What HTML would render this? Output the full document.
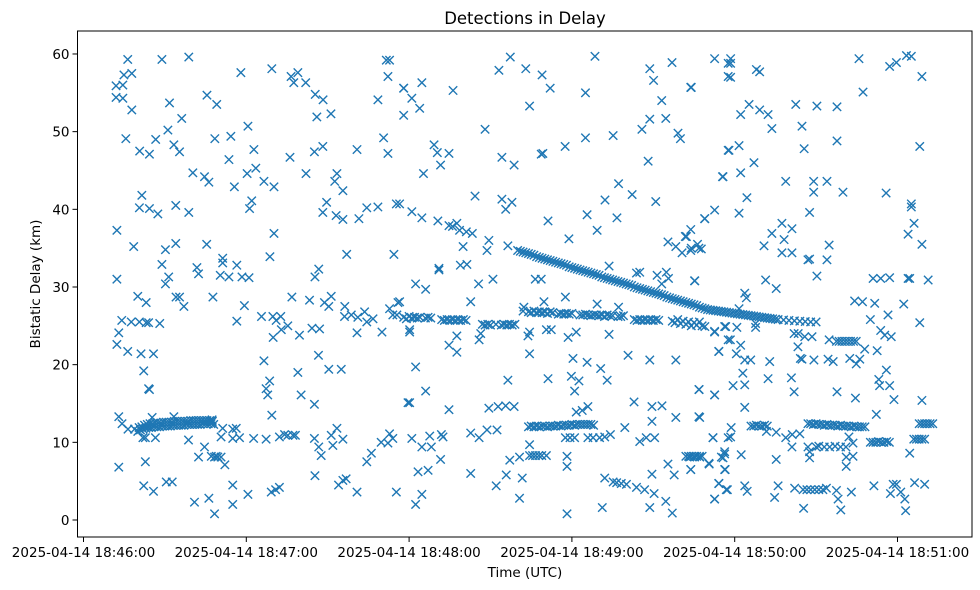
<!DOCTYPE html>
<html><head><meta charset="utf-8">
<style>
html,body{margin:0;padding:0;background:#fff;}
svg{display:block;font-family:"DejaVu Sans","Liberation Sans",sans-serif;}
</style></head>
<body>
<svg id="chart" width="980" height="590" viewBox="0 0 980 590" xmlns="http://www.w3.org/2000/svg">
<rect x="0" y="0" width="980" height="590" fill="#fff"/>
<text x="525" y="24" text-anchor="middle" font-size="16.5" fill="#000">Detections in Delay</text>
<g id="marks"></g>
<g id="axes"></g>
<text x="525" y="577" text-anchor="middle" font-size="13.5" fill="#000">Time (UTC)</text>
<text transform="translate(40,284) rotate(-90)" text-anchor="middle" font-size="13.5" fill="#000">Bistatic Delay (km)</text>
</svg>
<script>
// ---- data (seconds after 18:46:00, km) ----
const xTickSec = [0, 60, 120, 180, 240, 300];
const xTickLabels = ["2025-04-14 18:46:00","2025-04-14 18:47:00","2025-04-14 18:48:00","2025-04-14 18:49:00","2025-04-14 18:50:00","2025-04-14 18:51:00"];
const yTicks = [0, 10, 20, 30, 40, 50, 60];

const scatterPts = [
[16.3,59.3],[28.9,59.3],[38.8,59.6],[58,57.6],[69.4,58.1],[112.8,59.2],[111.6,59.2],[112.2,57.1],[14.9,57.3],[17.8,57.5],
[12,55.9],[14.5,56],[12,54.4],[14.5,54.3],[17.8,52.8],[31.7,53.7],[45.5,54.7],[49.1,53.5],[76.5,57.1],[79,57.6],
[77.5,56.3],[81.9,56.3],[85.4,54.8],[88.3,54.1],[86,51.9],[91.2,52.3],[108.5,54.1],[118,55.6],[118,52.1],[36.2,51.7],
[60.6,50.7],[31.1,50.2],[15.6,49.1],[26.6,49],[33.3,48.3],[35.4,47.4],[20.7,47.5],[24.3,47.1],[48.4,49.1],[54.3,49.4],
[62.8,47.7],[53.6,46.4],[76.1,46.7],[85.1,47.4],[88.2,48.1],[100.8,47.7],[110.6,49.2],[112.2,47.2],[40.3,44.7],[44.6,44.2],
[46.2,43.5],[60.3,44.6],[63.5,45.3],[66.5,43.6],[70.2,42.9],[55.6,42.9],[82,44.6],[93.4,44.6],[92.6,43.6],[95.6,42.4],
[21.5,41.8],[20.6,40.2],[24.3,40.1],[27.4,39.4],[34,40.5],[38.8,39.6],[62,41.1],[61.2,40.1],[89.6,40.9],[88.2,39.6],
[93.1,39.2],[95.6,38.7],[101.5,38.8],[104.4,40.2],[108.5,40.3],[115.3,40.7],[12.3,37.3],[70.2,36.9],[18.5,35.2],[30.2,34.8],
[34,35.6],[45.4,35.5],[51.3,33.7],[51.3,33.1],[56.5,32.8],[68.7,33.9],[97,34.2],[114.4,34.2],[28.9,32.9],[41.8,32.5],
[42.4,31.7],[31.4,31.3],[30.2,30.4],[12.3,31],[50.4,31.5],[53.6,31.3],[58.4,31.3],[61,31.2],[85.3,31.3],[86.7,32.3],
[20,28.8],[23.1,28],[34.1,28.7],[35.4,28.7],[37,27.5],[47.7,28.7],[59.3,27.6],[76.8,28.7],[83.3,28.3],[88.8,28],
[91.3,28.8],[90.4,27.5],[96.3,27.5],[115.9,28],[112.8,27.2],[14.1,25.7],[17.6,25.5],[20.6,25.5],[23.1,25.4],[24,25.4],
[28.1,25.3],[13,24.1],[12.3,22.6],[56.5,25.6],[65.6,26.2],[69.8,26.2],[72.7,26.2],[71,25.7],[75.3,25],[72.9,24.5],
[69.9,23.5],[79.6,23.8],[84.2,24.7],[87,24.6],[96.2,26.2],[98.7,26.4],[101.1,26.1],[103.6,26.8],[104.4,25.5],[106.7,25.9],
[110,24.2],[100.8,24.1],[114,26.4],[115.5,26.4],[16.3,21.7],[21.2,21.4],[25.8,21.4],[22.2,19.2],[24,16.9],[24.3,16.8],
[66.5,20.5],[68.6,17.9],[67.3,16.9],[67.9,16.1],[79,19],[86.6,21.2],[90.4,19.4],[95,19.4],[80.2,16.1],[85.1,14.9],
[69.4,13.5],[119.6,15.1],[13,13.3],[14.2,12.4],[16.4,11.7],[18.8,11.7],[25.3,13.2],[33.3,13.3],[47.4,12.9],[21.9,10.6],
[22.8,10.6],[26.5,10.6],[38.7,10.3],[44.6,9.4],[42.4,8.1],[48.3,8.1],[49.5,8.1],[50.7,8.1],[47.1,8.2],[48.9,8.2],
[52.1,7.1],[50.7,10.7],[51.3,11.8],[55,11.7],[56.3,11.8],[57.5,10.6],[55,10.5],[62.7,10.5],[67.3,10.4],[72.2,10.7],
[74.1,11],[75.3,10.9],[77.2,10.9],[78.1,10.9],[85.1,10.5],[86.7,9.4],[87.6,8.3],[91.3,10.9],[93.4,11.8],[95.6,10.4],
[91.9,9.6],[104.4,7.5],[106.1,8.6],[109.7,10],[112.2,9.9],[112.8,11.1],[114,10.5],[13,6.8],[22.8,7.5],[22.2,4.4],
[25.8,3.7],[30.5,4.9],[32.7,4.9],[40.9,2.3],[46.2,2.8],[48.3,0.8],[55,4.5],[55,2],[60.6,3.3],[69.2,3.6],
[70.8,3.9],[72.2,4.2],[85.3,5.7],[94,4.5],[95.6,5.1],[96.8,5.3],[100.8,3.6],[115.3,3.6],
[118,55.6],[124.7,56.3],[121,54.3],[123.9,53],[136.2,55.3],[153.1,57.9],[157.3,59.6],[163,58.1],[169,57.3],[172,55.6],
[164.4,53.3],[185,55],[188.5,59.7],[208.7,58.1],[210.1,56.6],[216.9,58.9],[232.6,59.4],[237.6,58.8],[237.6,57.1],[223.8,55.7],
[213.1,54],[208.7,51.6],[214.6,51.7],[205.8,50.3],[219.1,49.8],[220,49.1],[185,49.2],[195.2,49.5],[177.5,48.1],[148,50.3],
[169.3,47.2],[168.7,47.1],[154.2,46.7],[158.7,45.7],[129.2,48.3],[130.4,47.3],[134.7,47.2],[131.6,45.7],[125.3,44.6],[208.1,46.2],
[237.6,47.6],[235.5,44.2],[197.2,43.3],[202.2,41.9],[192.2,41.2],[210.9,41],[144.3,41.7],[154.2,41.3],[157.9,40.9],[155.6,40],
[185.6,39.3],[196.6,38.9],[232.6,39.9],[229,38.8],[171.2,38.5],[189.3,37.3],[178.9,36.2],[223.8,37.4],[221.8,36.5],[215.4,35.8],
[218.3,35.2],[220.6,34.4],[223.8,34.7],[226.3,35.5],[227.7,34.9],[116.5,40.7],[121,39.7],[124.7,38.9],[130.6,38.5],[134.7,37.9],
[137.6,38.2],[138.6,37.3],[141.1,37.1],[143.3,36.9],[136,37.8],[139.9,35.2],[149.4,36],[148.7,34.7],[156.4,35.3],[122.4,30.4],
[126.1,29.7],[131,32.4],[131,32.2],[138.9,32.8],[141.3,32.9],[145.6,30.4],[150.9,31],[166.5,31],[168.7,31],[193.7,32.7],
[203.8,31.8],[205,31.9],[211.4,31.5],[214.8,31.9],[215.6,31.1],[213.1,30.4],[225.3,30.8],[116.5,28.1],[142.7,28.1],[162.3,27.4],
[169.7,28.1],[177.6,28.7],[189.3,27.8],[197.2,27.4],[120.2,24.5],[120.2,24.2],[137.6,23.7],[134.7,22.5],[137.6,21.6],[145.8,23.2],
[146.4,24],[164.4,24.2],[163.8,23.7],[164.4,21.4],[170.6,24.5],[172.4,24.5],[178.6,23.5],[181.6,24.2],[193.7,23.9],[232.6,24.2],
[236.3,24.9],[237.6,23.2],[234.1,21.7],[122.4,19.7],[180.4,20.8],[185.6,20.3],[190.6,19.5],[156.4,18],[171.2,18.2],[179.8,18.5],
[182.6,17.9],[181,16.6],[193,18],[200.7,21.2],[208.7,20.6],[218.3,20.6],[126.1,16.6],[120.2,15.1],[134.7,14.2],[149.4,14.4],
[152.8,14.6],[155.6,14.7],[158.7,14.6],[181.6,13.9],[183.8,14.1],[185.9,14.6],[202.9,15.2],[209.5,14.6],[213.2,14.7],[218.3,13.2],
[227.1,13.2],[226.9,16.8],[232.6,16.1],[177.6,10.6],[179.3,10.6],[181,10.6],[185.9,10.6],[187.8,10.6],[190.2,10.6],[192.1,10.7],
[194.2,11],[199.5,11.9],[205,10.1],[207.4,10.6],[210.5,10.6],[209.5,12.7],[232,10.6],[237.6,10.6],[236.3,8.8],[235.1,8.1],
[121,10.5],[124.7,9.4],[127.6,10.8],[128.2,9.4],[131.9,11],[132.5,10.7],[142.7,11.2],[145.8,10.6],[148.7,11.6],[152.4,11.6],
[164.4,9.7],[164.4,8.3],[165.5,8.3],[166.6,8.3],[167.8,8.3],[168.9,8.3],[170.6,8.3],[178.2,8.2],[178.2,6.9],[157.1,7.7],
[160.7,8.1],[131.6,7.8],[123.3,6.2],[127,6.4],[142.7,6],[152.1,4.4],[155.8,5.8],[161.7,5.4],[160.7,2.8],[122.4,2],
[124.7,3.3],[192.1,5.4],[195.2,4.9],[196.5,4.8],[198.2,4.7],[200.1,4.6],[203.8,4.2],[206.8,3.9],[210.3,3.4],[209.5,5.9],
[215.4,7.2],[217.7,5.8],[223.4,8.1],[225.2,8.1],[227.1,8.1],[223.8,6.5],[230.6,7.2],[236.3,6.5],[234.1,4.7],[236.9,3.9],
[232.6,2.7],[178.2,0.8],[191.2,1.6],[208.7,1.6],[214.6,2.4],[217,0.9],
[238.5,59.4],[238.5,58.8],[238.5,57],[248,58],[249.2,57.7],[285.8,59.4],[297.1,58.4],[299.6,58.9],[303.3,59.8],[305.1,59.7],
[309,57.1],[224,55.7],[287.3,55.1],[245.3,53.5],[242.2,52.2],[249.2,52.8],[252.3,52.2],[262.5,53.5],[270.3,53.3],[277.7,53.2],
[253.7,50.4],[264.8,50.7],[237.9,47.6],[241.6,48.2],[265.6,47.8],[277.7,48.8],[308.2,48.1],[247.1,46],[235.7,44.2],[242.2,44.7],
[258.8,43.6],[269.1,43.6],[274,43.6],[269.1,42.2],[279.9,42.2],[244.5,41.5],[295.8,42.1],[305.1,40.7],[305.1,40.3],[241.6,39.5],
[228.9,38.8],[267.6,39.6],[306.1,38.2],[303.9,36.8],[309,35.5],[257.4,38.2],[261.1,37.5],[253.7,36.9],[258.2,36.1],[250.8,35.3],
[257.4,34.4],[261.1,34.4],[274.8,35.4],[274,33.5],[267,33.5],[267.6,33.6],[222.2,36.5],[224,35],[226.8,35],[270.3,31.4],
[225.2,30.8],[251.4,30.9],[255.3,29.8],[291,31.1],[293.8,31.1],[297.1,31.2],[303.9,31.1],[304.5,31.1],[311.3,30.9],[284.2,28.2],
[287.1,28.1],[291.6,27.9],[302.3,27.8],[243.7,29.2],[244.3,28.6],[241.6,27.2],[290,25.8],[296.5,26.4],[308.2,25.4],[293.8,24.4],
[295.3,23.8],[297.7,23.6],[232.6,24.3],[236.7,24.9],[240.8,24.8],[247.7,24.8],[247.7,25.3],[261.9,24],[263.4,24],[265.8,23.6],
[268.5,23.6],[263.3,22.3],[274.8,23.2],[277.5,23],[278.5,23],[279.5,23],[280.6,23],[281.6,23],[282.7,23],[283.8,23],
[284.8,23],[238.4,23.2],[242.2,22.5],[240.6,21.4],[234.2,21.7],[243.7,20.6],[245.9,20.6],[252.9,20.4],[264.2,20.8],[264.8,20.7],
[269.2,20.6],[274.4,20.7],[276.3,20.4],[282.4,20.8],[286.1,20.7],[287.9,22],[284.8,20.1],[292.5,21.8],[243,18.9],[243.7,17.4],
[239.4,17.3],[252.3,18.2],[260.9,18.3],[261.9,16.5],[293.1,18.1],[295.9,19.3],[293.4,17.3],[297.1,17.3],[277.7,16.5],[284.5,15.7],
[298.7,15.5],[309,15.4],[226.8,16.8],[232.6,16.1],[243.7,14.5],[226.8,13.3],[292.2,13.6],[251.7,11.4],[255.3,11.3],[238.7,11.9],
[232,10.6],[238.5,10.7],[258.8,10.6],[261.2,11],[264,11.1],[261.1,9.4],[267,9.4],[267.6,8.8],[267.6,8],[282.1,10.7],
[283.6,9.9],[281.1,8.1],[283.6,8.2],[281.1,6.9],[304.5,8.6],[236.3,8.5],[235.7,8],[236.5,6.5],[230.5,7.3],[223.8,6.5],
[242.4,8.4],[255.3,7.8],[234.2,4.7],[237.3,3.9],[232.6,2.7],[243.7,4.4],[244.6,3.7],[256,4.4],[254.7,2.9],[262.1,4.1],
[265.2,3.9],[266.6,3.9],[268,3.9],[269.5,3.9],[271,3.9],[272.5,3.9],[273.8,4.1],[277.5,3.8],[278.1,2.7],[283,3.6],
[265.4,1.5],[279.1,1.3],[291.3,4.4],[298.4,4.6],[299.6,4.6],[297.4,3.4],[301.2,3.6],[302.7,2.7],[303,1.2],[306.3,4.8],
[310,4.6]
];

// dense track near 12 km (left)
const trackLeftS = [20,20.5,21,21.5,22,22.5,23,23.5,24,24.5,25,25.5,26,26.5,27,27.5,28,28.5,29,29.5,30,30.5,31,31.5,32,32.5,33,33.5,34,34.5,35,35.5,36,36.5,37,37.5,38,38.5,39,39.5,40,40.5,41,41.5,42,42.5,43,43.5,44,44.5,45,45.5,46,46.5,47,47.5,48];
const trackLeftKm = [11.4,11.9,11.6,12.0,11.7,12.2,11.8,12.3,11.9,12.4,11.9,12.4,12.0,12.5,12.0,12.5,12.0,12.5,12.1,12.6,12.1,12.6,12.1,12.6,12.1,12.6,12.2,12.7,12.2,12.7,12.2,12.7,12.2,12.7,12.2,12.7,12.3,12.7,12.3,12.8,12.3,12.8,12.3,12.8,12.3,12.8,12.3,12.8,12.4,12.8,12.4,12.8,12.4,12.8,12.4,12.7,12.3];

// main descending track
const trackMainS = [160,161,162,163,164,165,166,167,168,169,170,171,172,173,174,175,176,177,178,179,180,181,182,183,184,185,186,187,188,189,190,191,192,193,194,195,196,197,198,199,200,201,202,203,204,205,206,207,208,209,210,211,212,213,214,215,216,217,218,219,220,221,222,223,224,225,226,227,228,229,230,231,232,233,234,235,236,237,238,239,240,241,242,243,244,245,246,247,248,249,250,251,252,253,254,255,256,258,260,262,264,266,268,270];
const trackMainKm = [34.7,34.6,34.5,34.4,34.3,34.2,34.1,33.9,33.8,33.7,33.6,33.5,33.4,33.3,33.2,33.1,33.0,32.9,32.8,32.6,32.5,32.4,32.3,32.2,32.1,32.0,31.9,31.8,31.7,31.6,31.5,31.3,31.2,31.1,31.0,30.9,30.8,30.7,30.6,30.5,30.4,30.3,30.2,30.0,29.9,29.8,29.7,29.6,29.5,29.4,29.3,29.2,29.1,29.0,28.9,28.7,28.6,28.5,28.4,28.3,28.2,28.1,28.0,27.9,27.8,27.7,27.6,27.4,27.3,27.2,27.1,27.05,27.0,26.95,26.9,26.85,26.8,26.75,26.7,26.65,26.6,26.55,26.5,26.45,26.4,26.35,26.3,26.25,26.2,26.15,26.1,26.05,26.0,25.95,25.9,25.85,25.8,25.75,25.7,25.65,25.6,25.55,25.5,25.5];

// horizontal band near 26 km (segmented)
const band26S = [118,119,120,121,122,123,124,126,127,128,132,133,134,135,136,137,138,139,140,141,147,148,149,150,152,154,155,156,157,158,159,162,164,165,166,167,168,169,170,171,172,173,175,176,177,178,179,180,183,184,185,186,187,188,189,190,191,192,193,194,195,197,198,199,203,204,205,206,207,208,209,210,211,212,217,218,219,220,221,222,223,224,225,226,227,228,229];
const band26Km = [26.1,25.9,26.2,26.0,26.1,26.0,26.1,26.0,26.1,26.0,25.8,25.7,25.8,25.7,25.8,25.7,25.8,25.7,25.8,25.7,25.2,25.1,25.2,25.1,25.2,25.1,25.2,25.1,25.2,25.1,25.2,26.9,26.8,26.7,26.9,26.7,26.8,26.7,26.8,26.6,26.8,26.7,26.5,26.6,26.5,26.6,26.5,26.6,26.4,26.4,26.5,26.4,26.3,26.4,26.4,26.3,26.4,26.2,26.4,26.3,26.3,26.2,26.2,26.3,25.8,25.7,25.8,25.7,25.8,25.7,25.8,25.7,25.8,25.7,25.6,25.4,25.8,25.3,25.6,25.2,25.5,25.0,25.4,25.1,25.5,25.0,24.9];

// short horizontal segments near 12 km / 10 km / 8 km
const bandLowS = [164,165,166,167,168,169,170,171,172,173,174,175,176,177,178,179,180,181,182,183,184,185,186,187,188,246,247,248,249,250,251,252,267,268,269,270,271,272,273,274,275,276,277,278,279,280,281,282,283,284,285,286,287,288,290,291,292,293,294,295,296,297,306,307,308,309,310,308,309,310,311,312,313,222,223,224,225,226,227,228,270,271,273,275,277,279,281];
const bandLowKm = [12.0,12.1,12.0,12.1,12.0,12.1,12.1,12.0,12.1,12.1,12.1,12.2,12.1,12.2,12.2,12.2,12.3,12.2,12.3,12.3,12.3,12.3,12.3,12.3,12.2,12.1,12.1,12.2,12.1,12.1,12.2,12.1,12.4,12.4,12.3,12.4,12.3,12.3,12.2,12.3,12.2,12.2,12.2,12.1,12.2,12.1,12.1,12.1,12.0,12.1,12.0,12.0,12.0,12.0,10.0,10.0,10.0,10.1,10.0,10.0,10.1,10.0,10.4,10.4,10.4,10.4,10.4,12.4,12.4,12.4,12.4,12.4,12.4,8.2,8.2,8.2,8.2,8.2,8.2,8.2,9.4,9.5,9.4,9.4,9.5,9.4,9.4];

// ---- axes mapping ----
const PL = 77.5, PR = 972, PT = 31, PB = 537;
function xPx(s){ return 83.5 + s * 162.8 / 60; }
function yPx(km){ return 520 - km * 7.767; }

const NS = 'http://www.w3.org/2000/svg';
const marks = document.getElementById('marks');
const axes = document.getElementById('axes');
const COLOR = '#1f77b4';
const R = 4.2;

function addMarker(s, km, name){
  const cx = xPx(s), cy = yPx(km);
  const p = document.createElementNS(NS, 'path');
  p.setAttribute('d', 'M' + (cx-R) + ' ' + (cy-R) + 'L' + (cx+R) + ' ' + (cy+R) + 'M' + (cx-R) + ' ' + (cy+R) + 'L' + (cx+R) + ' ' + (cy-R));
  p.setAttribute('stroke', COLOR);
  p.setAttribute('stroke-width', '1.4');
  p.setAttribute('fill', 'none');
  
  
  marks.appendChild(p);
}
scatterPts.forEach(function(pt){ addMarker(pt[0], pt[1], 'detection-point'); });
trackLeftS.forEach(function(s, i){ addMarker(s, trackLeftKm[i], 'track-point'); });
trackMainS.forEach(function(s, i){ addMarker(s, trackMainKm[i], 'track-point'); });
band26S.forEach(function(s, i){ addMarker(s, band26Km[i], 'band-point'); });
bandLowS.forEach(function(s, i){ addMarker(s, bandLowKm[i], 'band-point'); });

// frame
const frame = document.createElementNS(NS, 'rect');
frame.setAttribute('x', PL); frame.setAttribute('y', PT);
frame.setAttribute('width', PR - PL); frame.setAttribute('height', PB - PT);
frame.setAttribute('fill', 'none'); frame.setAttribute('stroke', '#000'); frame.setAttribute('stroke-width', '1');


axes.appendChild(frame);

yTicks.forEach(function(v){
  const y = yPx(v);
  const t = document.createElementNS(NS, 'line');
  t.setAttribute('x1', PL - 5); t.setAttribute('x2', PL); t.setAttribute('y1', y); t.setAttribute('y2', y);
  t.setAttribute('stroke', '#000'); t.setAttribute('stroke-width', '1');
  
  
  axes.appendChild(t);
  const l = document.createElementNS(NS, 'text');
  l.setAttribute('x', PL - 8); l.setAttribute('y', y + 5);
  l.setAttribute('text-anchor', 'end'); l.setAttribute('font-size', '13.5');
  l.textContent = v;
  
  
  axes.appendChild(l);
});
xTickSec.forEach(function(s, i){
  const x = xPx(s);
  const t = document.createElementNS(NS, 'line');
  t.setAttribute('x1', x); t.setAttribute('x2', x); t.setAttribute('y1', PB); t.setAttribute('y2', PB + 5);
  t.setAttribute('stroke', '#000'); t.setAttribute('stroke-width', '1');
  
  
  axes.appendChild(t);
  const l = document.createElementNS(NS, 'text');
  l.setAttribute('x', x); l.setAttribute('y', PB + 20);
  l.setAttribute('text-anchor', 'middle'); l.setAttribute('font-size', '13.5');
  l.textContent = xTickLabels[i];
  
  
  axes.appendChild(l);
});
</script>
</body></html>
